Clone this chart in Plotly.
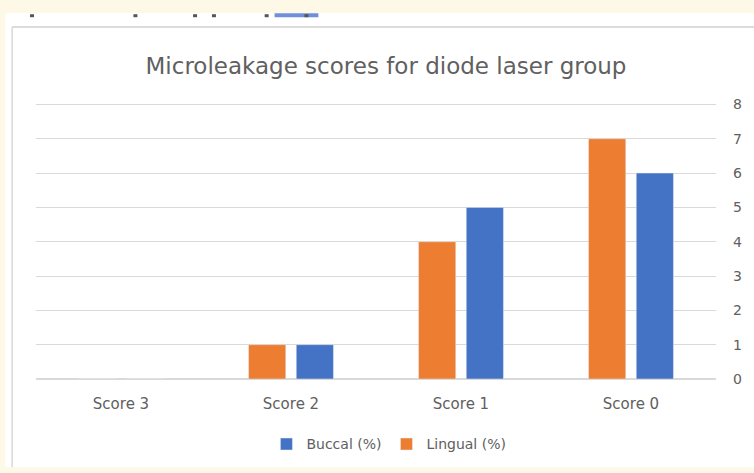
import plotly.graph_objects as go

categories = ["Score 3", "Score 2", "Score 1", "Score 0"]
lingual = [0, 1, 4, 7]
buccal = [0, 1, 5, 6]
y_ticks = [0, 1, 2, 3, 4, 5, 6, 7, 8]

W, H = 754, 473
y_max = 8.1
unit = (381 - 104) / 8
L, R, B = 36, 34, 92
T = 381 - y_max * unit
pw, ph = W - L - R, H - T - B

def px(x):
    return (x - L) / pw

def py(y):
    return (H - B - y) / ph

grey = "#606060"
font_family = "'DejaVu Sans', Verdana, sans-serif"

fig = go.Figure()
fig.add_trace(go.Bar(x=categories, y=lingual, name="Lingual (%)",
                     marker=dict(color="#ED7D31")))
fig.add_trace(go.Bar(x=categories, y=buccal, name="Buccal (%)",
                     marker=dict(color="#4472C4")))

shapes = [
    # white panel
    dict(type="rect", xref="paper", yref="paper", x0=px(5), x1=px(760), y0=py(470), y1=py(12),
         fillcolor="white", line=dict(width=0), layer="below"),
    # panel border
    dict(type="line", xref="paper", yref="paper", x0=px(12), x1=px(760), y0=py(26), y1=py(26),
         line=dict(color="#d0d0d0", width=1.5), layer="below"),
    dict(type="line", xref="paper", yref="paper", x0=px(12), x1=px(12), y0=py(470), y1=py(26),
         line=dict(color="#d8d8d8", width=1.5), layer="below"),
    # cropped caption remnants
    dict(type="rect", xref="paper", yref="paper", x0=px(276), x1=px(320), y0=py(16), y1=py(12),
         fillcolor="#6f8fdc", line=dict(width=0), layer="below"),
]
for cx in [32, 136, 196, 215, 268, 308]:
    shapes.append(dict(type="rect", xref="paper", yref="paper", x0=px(cx - 2), x1=px(cx + 2),
                       y0=py(16), y1=py(13), fillcolor="#555555", line=dict(width=0), layer="below"))

fig.update_layout(
    width=W, height=H,
    margin=dict(l=L, r=R, t=T, b=B),
    paper_bgcolor="#FEF9E6",
    plot_bgcolor="white",
    barmode="group",
    bargap=0.439,
    bargroupgap=0.22,
    font=dict(family=font_family, color=grey, size=13),
    title=dict(text="Microleakage scores for diode laser group",
               x=386 / W, xanchor="center", y=1 - 66 / H, yanchor="middle",
               font=dict(family=font_family, size=23, color=grey)),
    xaxis=dict(showgrid=False, showline=False, ticks="", ticklabelstandoff=14,
               tickfont=dict(size=15, color=grey)),
    yaxis=dict(side="right", range=[0, y_max], tickvals=y_ticks, showgrid=True,
               gridcolor="#d9d9d9", gridwidth=1, zeroline=True, zerolinecolor="#d9d9d9",
               showline=False, ticks="", ticklabelstandoff=16,
               tickfont=dict(size=14, color=grey)),
    legend=dict(orientation="h", xanchor="center", x=px(391), yanchor="middle", y=py(447),
                traceorder="reversed", font=dict(size=14, color=grey), bgcolor="rgba(0,0,0,0)",
                itemwidth=30),
    shapes=shapes,
    showlegend=True,
)

fig.write_html("out.html", config={"displayModeBar": False},
               post_script="document.body.style.margin='0';document.body.style.padding='0';")
